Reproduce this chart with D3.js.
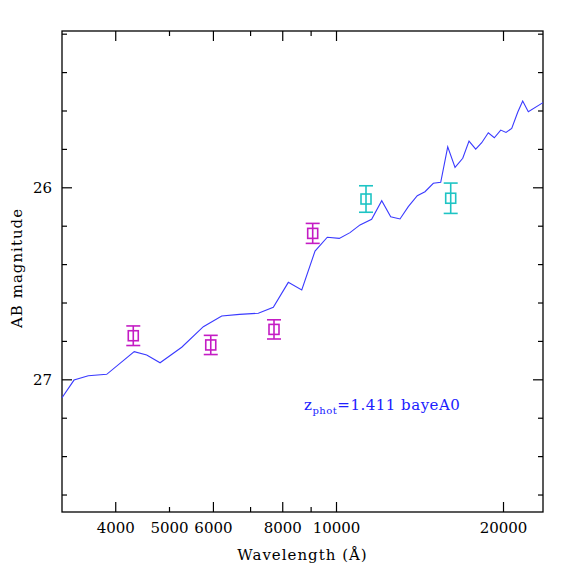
<!DOCTYPE html>
<html>
<head>
<meta charset="utf-8">
<script src="https://cdn.jsdelivr.net/npm/d3@7"></script>
<style>
  body { margin: 0; background: #fff; }
  text { font-family: "DejaVu Serif", "Liberation Serif", serif; }
</style>
</head>
<body>
<div id="chart"></div>
<script>
// model SED (wavelength in Angstrom, AB mag)
var sedWave = [3207, 3371, 3577, 3861, 4328, 4558, 4818, 5271, 5766, 6223, 6700, 7244, 7709,
  8204, 8675, 9166, 9645, 10137, 10598, 11048, 11594, 12090, 12549, 13042, 13499, 14012,
  14468, 14977, 15444, 15899, 16389, 16922, 17369, 17858, 18308, 18816, 19290, 19811,
  20250, 20736, 21258, 21703, 22214, 23611];
var sedMag = [27.096, 27.004, 26.981, 26.974, 26.856, 26.873, 26.914, 26.833, 26.726, 26.670,
  26.662, 26.656, 26.625, 26.495, 26.535, 26.332, 26.260, 26.266, 26.236, 26.196, 26.167,
  26.070, 26.153, 26.165, 26.101, 26.044, 26.023, 25.979, 25.974, 25.789, 25.896, 25.849,
  25.759, 25.801, 25.768, 25.716, 25.742, 25.702, 25.714, 25.693, 25.609, 25.551, 25.606,
  25.559];

// observed photometry
var obsWave = [4311, 5946, 7731, 9078, 11326, 16097];
var obsMag = [26.773, 26.821, 26.740, 26.240, 26.061, 26.057];
var obsErr = [0.051, 0.050, 0.050, 0.052, 0.069, 0.079];
var obsBand = ["opt", "opt", "opt", "opt", "nir", "nir"];

var xTicks = [4000, 5000, 6000, 7000, 8000, 9000, 10000, 20000];
var xMajor = [4000, 6000, 8000, 10000, 20000];
var xLabels = [4000, 5000, 6000, 8000, 10000, 20000];
var yTicks = [25.2, 25.4, 25.6, 25.8, 26, 26.2, 26.4, 26.6, 26.8, 27, 27.2, 27.4, 27.6];
var yLabels = [26, 27];

var margin = { top: 31, right: 31, bottom: 62, left: 62 };
var width = 481;
var height = 481;

var svg = d3.select("#chart")
    .append("svg")
    .attr("width", 574)
    .attr("height", 574)
    .append("g")
    .attr("transform", `translate(${margin.left}, ${margin.top})`);

var x = d3.scaleLog()
    .domain([3207, 23611])
    .range([0, width]);

var y = d3.scaleLinear()
    .domain([25.186, 27.691])
    .range([0, height]);

var bandColor = { opt: "#c41cc4", nir: "#1ec4c4" };

// frame
svg.append("rect")
    .attr("width", width)
    .attr("height", height)
    .attr("fill", "none")
    .attr("stroke", "#000")
    .attr("stroke-width", 1.3);

function styleTicks(g) {
    g.select(".domain").remove();
    g.selectAll(".tick line")
        .attr("stroke", "#000")
        .attr("stroke-width", 1.2);
    g.selectAll(".tick text")
        .attr("fill", "#000")
        .style("font-size", "15px");
}

// bottom axis (ticks inward)
var gx = svg.append("g")
    .attr("transform", `translate(0, ${height})`)
    .call(d3.axisBottom(x)
        .tickValues(xTicks)
        .tickSizeInner(-10)
        .tickSizeOuter(0)
        .tickPadding(10)
        .tickFormat(d => xLabels.includes(d) ? d : ""));
styleTicks(gx);
gx.selectAll(".tick line").attr("y2", d => xMajor.includes(d) ? -10 : -5);

// top axis
var gxt = svg.append("g")
    .call(d3.axisTop(x)
        .tickValues(xTicks)
        .tickSizeInner(-10)
        .tickSizeOuter(0)
        .tickFormat(""));
styleTicks(gxt);
gxt.selectAll(".tick line").attr("y2", d => xMajor.includes(d) ? 10 : 5);

// left axis
var gy = svg.append("g")
    .call(d3.axisLeft(y)
        .tickValues(yTicks)
        .tickSizeInner(-10)
        .tickSizeOuter(0)
        .tickPadding(10)
        .tickFormat(d => yLabels.includes(d) ? d : ""));
styleTicks(gy);
gy.selectAll(".tick line").attr("x2", d => yLabels.includes(d) ? 10 : 5);

// right axis
var gyr = svg.append("g")
    .attr("transform", `translate(${width}, 0)`)
    .call(d3.axisRight(y)
        .tickValues(yTicks)
        .tickSizeInner(-10)
        .tickSizeOuter(0)
        .tickFormat(""));
styleTicks(gyr);
gyr.selectAll(".tick line").attr("x2", d => yLabels.includes(d) ? -10 : -5);

// SED line
var sed = sedWave.map((w, i) => ({ w: w, m: sedMag[i] }));
svg.append("path")
    .datum(sed)
    .attr("fill", "none")
    .attr("stroke", "#3a3aff")
    .attr("stroke-width", 1.1)
    .attr("d", d3.line().x(d => x(d.w)).y(d => y(d.m)));

// photometry with error bars
var obs = obsWave.map((w, i) => ({ w: w, m: obsMag[i], e: obsErr[i], b: obsBand[i] }));
var pts = svg.selectAll("g.pt")
    .data(obs)
    .enter()
    .append("g")
    .attr("class", "pt")
    .attr("stroke", d => bandColor[d.b])
    .attr("stroke-width", 1.6)
    .attr("fill", "none");

pts.append("line")
    .attr("x1", d => x(d.w)).attr("x2", d => x(d.w))
    .attr("y1", d => y(d.m - d.e)).attr("y2", d => y(d.m + d.e));
pts.append("line")
    .attr("x1", d => x(d.w) - 7).attr("x2", d => x(d.w) + 7)
    .attr("y1", d => y(d.m - d.e)).attr("y2", d => y(d.m - d.e));
pts.append("line")
    .attr("x1", d => x(d.w) - 7).attr("x2", d => x(d.w) + 7)
    .attr("y1", d => y(d.m + d.e)).attr("y2", d => y(d.m + d.e));
pts.append("rect")
    .attr("x", d => x(d.w) - 5)
    .attr("y", d => y(d.m) - 5)
    .attr("width", 10)
    .attr("height", 10);

// annotation
var note = svg.append("text")
    .attr("x", x(8757))
    .attr("y", y(27.16))
    .attr("fill", "#2020ff")
    .style("font-size", "15px")
    .style("letter-spacing", "0.5px");
note.append("tspan").text("z");
note.append("tspan").attr("dy", 4).style("font-size", "10px").text("phot");
note.append("tspan").attr("dy", -4).text("=1.411 bayeA0");

// axis titles
svg.append("text")
    .attr("x", width / 2)
    .attr("y", height + 48)
    .attr("text-anchor", "middle")
    .style("font-size", "15px")
    .style("letter-spacing", "1px")
    .text("Wavelength (Å)");

svg.append("text")
    .attr("transform", `translate(-40, ${y(26.42)}) rotate(-90)`)
    .attr("text-anchor", "middle")
    .style("font-size", "15px")
    .style("letter-spacing", "1px")
    .text("AB magnitude");
</script>
</body>
</html>
